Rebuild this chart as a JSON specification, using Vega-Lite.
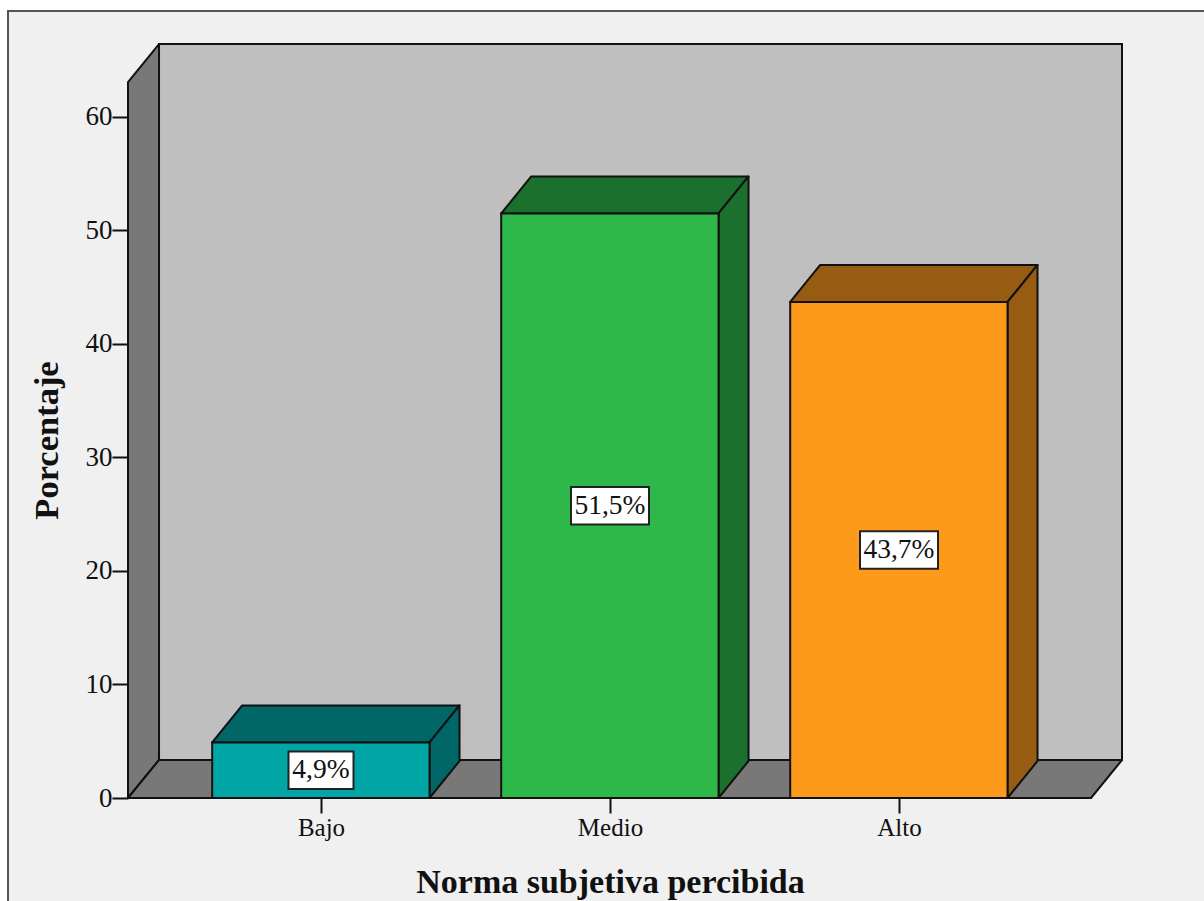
{
  "$schema": "https://vega.github.io/schema/vega-lite/v6.json",
  "width": 994,
  "height": 754,
  "autosize": "none",
  "padding": {"left": 128, "top": 44, "right": 82, "bottom": 103},
  "background": "#ffffff",
  "config": {"view": {"stroke": null}, "font": "Liberation Serif"},
  "datasets": {
    "barras": [
      {"categoria": "Bajo", "porcentaje": 4.9, "etiqueta": "4,9%"},
      {"categoria": "Medio", "porcentaje": 51.5, "etiqueta": "51,5%"},
      {"categoria": "Alto", "porcentaje": 43.7, "etiqueta": "43,7%"}
    ],
    "profundidad": [{"t": 0}, {"t": 1}],
    "marco": [{"parte": "marco"}]
  },
  "layer": [
    {
      "data": {"name": "marco"},
      "transform": [
        {"calculate": "-0.083", "as": "xa"},
        {"calculate": "4.1", "as": "xb"},
        {"calculate": "-12", "as": "ya"},
        {"calculate": "69.34", "as": "yb"}
      ],
      "mark": {"type": "rect", "fill": "#f0f0f0", "stroke": "#555555", "strokeWidth": 2},
      "encoding": {
        "x": {
          "field": "xa",
          "type": "quantitative",
          "scale": {"domain": [0.33218, 3.7716], "nice": false, "zero": false},
          "axis": {
            "values": [1, 2, 3],
            "labelExpr": "datum.value == 1 ? 'Bajo' : datum.value == 2 ? 'Medio' : 'Alto'",
            "domain": false,
            "grid": false,
            "zindex": 1,
            "tickColor": "#111111",
            "tickWidth": 2,
            "tickSize": 15,
            "labelFont": "Liberation Serif",
            "labelFontSize": 25,
            "labelColor": "#111111",
            "labelPadding": 2,
            "title": "Norma subjetiva percibida",
            "titleFont": "Liberation Serif",
            "titleFontSize": 34,
            "titleFontWeight": "bold",
            "titleColor": "#111111",
            "titleX": 482,
            "titleY": 67
          }
        },
        "x2": {"field": "xb"},
        "y": {
          "field": "ya",
          "type": "quantitative",
          "scale": {"domain": [0, 66.43], "nice": false, "zero": false},
          "axis": {
            "values": [0, 10, 20, 30, 40, 50, 60],
            "domain": false,
            "grid": false,
            "zindex": 1,
            "tickColor": "#111111",
            "tickWidth": 2,
            "tickSize": 16,
            "labelFont": "Liberation Serif",
            "labelFontSize": 27,
            "labelColor": "#111111",
            "labelPadding": 0,
            "title": "Porcentaje",
            "titleFont": "Liberation Serif",
            "titleFontSize": 34.5,
            "titleFontWeight": "bold",
            "titleColor": "#111111",
            "titleX": -64,
            "titleY": 396
          }
        },
        "y2": {"field": "yb"}
      }
    },
    {
      "data": {"name": "marco"},
      "transform": [
        {"calculate": "0.43948", "as": "xa"},
        {"calculate": "3.7716", "as": "xb"},
        {"calculate": "3.348", "as": "ya"},
        {"calculate": "66.43", "as": "yb"}
      ],
      "mark": {"type": "rect", "fill": "#bfbfbf", "stroke": "#111111", "strokeWidth": 2},
      "encoding": {
        "x": {"field": "xa", "type": "quantitative"},
        "x2": {"field": "xb"},
        "y": {"field": "ya", "type": "quantitative"},
        "y2": {"field": "yb"}
      }
    },
    {
      "data": {"name": "profundidad"},
      "transform": [
        {"calculate": "0.33218 + datum.t * 0.1073", "as": "xp"},
        {"calculate": "datum.t * 3.348", "as": "yb"},
        {"calculate": "63.08 + datum.t * 3.348", "as": "yt"}
      ],
      "mark": {"type": "area", "fill": "#787878", "stroke": "#111111", "strokeWidth": 2, "strokeJoin": "round"},
      "encoding": {
        "x": {"field": "xp", "type": "quantitative"},
        "y": {"field": "yb", "type": "quantitative"},
        "y2": {"field": "yt"}
      }
    },
    {
      "data": {"name": "profundidad"},
      "transform": [
        {"calculate": "0.33218 + datum.t * 0.1073", "as": "xa"},
        {"calculate": "3.6643 + datum.t * 0.1073", "as": "xb"},
        {"calculate": "datum.t * 3.348", "as": "yp"}
      ],
      "mark": {"type": "area", "orient": "horizontal", "fill": "#787878", "stroke": "#111111", "strokeWidth": 2, "strokeJoin": "round"},
      "encoding": {
        "x": {"field": "xa", "type": "quantitative"},
        "x2": {"field": "xb"},
        "y": {"field": "yp", "type": "quantitative"}
      }
    },
    {
      "data": {"name": "barras"},
      "transform": [
        {"calculate": "indexof(['Bajo','Medio','Alto'], datum.categoria) + 1", "as": "pos"},
        {"calculate": "[0, 1]", "as": "t"},
        {"flatten": ["t"]},
        {"calculate": "datum.pos - 0.3765 + datum.t * 0.1038", "as": "xa"},
        {"calculate": "datum.pos + 0.3755 + datum.t * 0.1038", "as": "xb"},
        {"calculate": "datum.porcentaje + datum.t * 3.26", "as": "yp"},
        {"calculate": "datum.categoria + ' sombra'", "as": "tono"}
      ],
      "mark": {"type": "area", "orient": "horizontal", "stroke": "#111111", "strokeWidth": 2, "strokeJoin": "round"},
      "encoding": {
        "x": {"field": "xa", "type": "quantitative"},
        "x2": {"field": "xb"},
        "y": {"field": "yp", "type": "quantitative"},
        "fill": {
          "field": "tono",
          "type": "nominal",
          "legend": null,
          "scale": {
            "domain": ["Bajo", "Medio", "Alto", "Bajo sombra", "Medio sombra", "Alto sombra"],
            "range": ["#00a5a5", "#2eb84a", "#fd9a1c", "#006666", "#1c702e", "#985b12"]
          }
        }
      }
    },
    {
      "data": {"name": "barras"},
      "transform": [
        {"calculate": "indexof(['Bajo','Medio','Alto'], datum.categoria) + 1", "as": "pos"},
        {"calculate": "[0, 1]", "as": "t"},
        {"flatten": ["t"]},
        {"calculate": "datum.pos + 0.3755 + datum.t * 0.1038", "as": "xp"},
        {"calculate": "datum.t * 3.26", "as": "yb"},
        {"calculate": "datum.porcentaje + datum.t * 3.26", "as": "yt"},
        {"calculate": "datum.categoria + ' sombra'", "as": "tono"}
      ],
      "mark": {"type": "area", "stroke": "#111111", "strokeWidth": 2, "strokeJoin": "round"},
      "encoding": {
        "x": {"field": "xp", "type": "quantitative"},
        "y": {"field": "yb", "type": "quantitative"},
        "y2": {"field": "yt"},
        "fill": {"field": "tono", "type": "nominal", "legend": null}
      }
    },
    {
      "data": {"name": "barras"},
      "transform": [
        {"calculate": "indexof(['Bajo','Medio','Alto'], datum.categoria) + 1", "as": "pos"},
        {"calculate": "datum.pos - 0.3765", "as": "izq"},
        {"calculate": "datum.pos + 0.3755", "as": "der"},
        {"calculate": "0", "as": "base"},
        {"calculate": "datum.categoria", "as": "tono"}
      ],
      "mark": {"type": "rect", "stroke": "#111111", "strokeWidth": 2},
      "encoding": {
        "x": {"field": "izq", "type": "quantitative"},
        "x2": {"field": "der"},
        "y": {"field": "base", "type": "quantitative"},
        "y2": {"field": "porcentaje"},
        "fill": {"field": "tono", "type": "nominal", "legend": null}
      }
    },
    {
      "data": {"name": "barras"},
      "transform": [
        {"calculate": "indexof(['Bajo','Medio','Alto'], datum.categoria) + 1", "as": "pos"},
        {"calculate": "datum.pos - 6.5 * (length(datum.etiqueta) + 1) / 289", "as": "xa"},
        {"calculate": "datum.pos + 6.5 * (length(datum.etiqueta) + 1) / 289", "as": "xb"},
        {"calculate": "datum.porcentaje / 2 - 1.65", "as": "ya"},
        {"calculate": "datum.porcentaje / 2 + 1.65", "as": "yb"}
      ],
      "mark": {"type": "rect", "fill": "#ffffff", "stroke": "#222222", "strokeWidth": 2},
      "encoding": {
        "x": {"field": "xa", "type": "quantitative"},
        "x2": {"field": "xb"},
        "y": {"field": "ya", "type": "quantitative"},
        "y2": {"field": "yb"}
      }
    },
    {
      "data": {"name": "barras"},
      "transform": [
        {"calculate": "indexof(['Bajo','Medio','Alto'], datum.categoria) + 1", "as": "pos"},
        {"calculate": "datum.porcentaje / 2", "as": "centro"}
      ],
      "mark": {"type": "text", "font": "Liberation Serif", "fontSize": 27.5, "color": "#111111", "align": "center", "baseline": "middle"},
      "encoding": {
        "x": {"field": "pos", "type": "quantitative"},
        "y": {"field": "centro", "type": "quantitative"},
        "text": {"field": "etiqueta"}
      }
    }
  ]
}
